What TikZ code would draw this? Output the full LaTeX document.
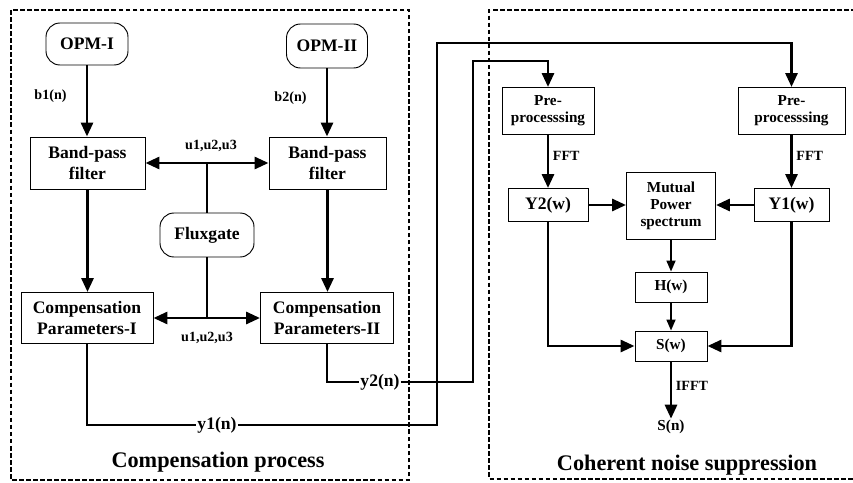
\documentclass[tikz,border=0pt]{standalone}
\usepackage{fontspec}
\setmainfont{Liberation Serif}
\usetikzlibrary{arrows.meta,positioning}

\begin{document}
\begin{tikzpicture}[x=0.03cm, y=-0.03cm,
	every node/.style={font=\fontsize{15}{17.5}\selectfont\bfseries},
	>={Triangle[length=4.2mm, width=3.6mm]},
	box/.style={draw, line width=0.8pt, align=center, inner sep=0pt},
	rbox/.style={box, rounded corners=0.42cm},
	rt/.style={box, font=\fontsize{13}{14.5}\selectfont\bfseries},
	sig/.style={inner sep=1pt, font=\fontsize{15}{17}\selectfont\bfseries},
	lbl/.style={inner sep=2pt, font=\fontsize{12}{14}\selectfont\bfseries},
	flow/.style={line width=2.5pt},
	thinflow/.style={line width=1.4pt, >={Triangle[length=3.3mm, width=2.7mm]}},
	frame/.style={line width=1.4pt, dash pattern=on 4pt off 2pt}]
	\useasboundingbox (0,0) rectangle (853,482);

	\draw[frame] (11,10) rectangle (409,480);
	\draw[frame] (856,10) -- (489,10) -- (489,479) -- (856,479);

	\node[rbox, minimum width=2.46cm, minimum height=1.26cm] (opm1) at (87,44) {OPM-I};
	\node[rbox, minimum width=2.43cm, minimum height=1.32cm] (opm2) at (327,46) {OPM-II};
	\node[box, minimum width=3.45cm, minimum height=1.56cm] (bpf1) at (87.5,163) {Band-pass\\filter};
	\node[box, minimum width=3.51cm, minimum height=1.56cm] (bpf2) at (327.5,163) {Band-pass\\filter};
	\node[rbox, minimum width=2.82cm, minimum height=1.32cm] (flux) at (207,235) {Fluxgate};
	\node[box, minimum width=3.96cm, minimum height=1.53cm] (cp1) at (87,318) {Compensation\\Parameters-I};
	\node[box, minimum width=3.99cm, minimum height=1.53cm] (cp2) at (327,318) {Compensation\\Parameters-II};

	\draw[flow, ->] (opm1.south) -- (opm1.south |- bpf1.north) node[lbl, pos=0.43, left=0.5cm] (b1) {b1(n)};
	\draw[flow, ->] (opm2.south) -- (opm2.south |- bpf2.north) node[lbl, pos=0.43, left=0.5cm] (b2) {b2(n)};
	\draw[flow] (flux.north) -- (flux.north |- bpf1.east) coordinate (jt);
	\draw[flow, <->] (bpf1.east) -- (bpf2.west);
	\node[lbl, above=0.26cm of jt, xshift=0.12cm] (utop) {u1,u2,u3};
	\draw[flow] (flux.south) -- (flux.south |- cp1.east) coordinate (jb);
	\draw[flow, <->] (cp1.east) -- (cp2.west);
	\node[lbl, below=0.36cm of jb] (ubot) {u1,u2,u3};
	\draw[flow, ->] (bpf1.south) -- (bpf1.south |- cp1.north);
	\draw[flow, ->] (bpf2.south) -- (bpf2.south |- cp2.north);

	\node[rt, minimum width=2.76cm, minimum height=1.41cm] (pre1) at (548,111) {Pre-\\processsing};
	\node[rt, minimum width=3.21cm, minimum height=1.41cm] (pre2) at (791.5,111) {Pre-\\processsing};
	\node[box, minimum width=2.4cm, minimum height=0.99cm] (y2w) at (548,205) {Y2(w)};
	\node[rt, minimum width=2.67cm, minimum height=2.01cm] (mps) at (671,206) {Mutual\\Power\\spectrum};
	\node[box, minimum width=2.25cm, minimum height=0.99cm] (y1w) at (791.5,205) {Y1(w)};
	\node[rt, minimum width=2.16cm, minimum height=0.9cm] (hw) at (671,287) {H(w)};
	\node[rt, minimum width=2.16cm, minimum height=0.9cm] (sw) at (671,346) {S(w)};
	\node[inner sep=1pt, font=\fontsize{13}{14.5}\selectfont\bfseries] (sn) at (671,427) {S(n)};

	\node[sig] (y2n) at (380,382) {y2(n)};
	\draw[flow] (cp2.south) |- (y2n.west);
	\draw[flow, ->] (y2n.east) -| (473,61) -| (pre1.north);
	\node[sig] (y1n) at (217,425) {y1(n)};
	\draw[flow] (cp1.south) |- (y1n.west);
	\draw[flow, ->] (y1n.east) -| (437,43) -| (pre2.north);

	\draw[flow, ->] (pre1) -- (y2w) node[lbl, pos=0.4, right=1pt] (fft1) {FFT};
	\draw[flow, ->] (pre2) -- (y1w) node[lbl, pos=0.4, right=1pt] (fft2) {FFT};
	\draw[flow, ->] (y2w.east) -- (y2w.east -| mps.west);
	\draw[flow, ->] (y1w.west) -- (y1w.west -| mps.east);
	\draw[thinflow, ->] (mps) -- (hw);
	\draw[thinflow, ->] (hw) -- (sw);
	\draw[flow, ->] (y2w.south) |- (sw.west);
	\draw[flow, ->] (y1w.south) |- (sw.east);
	\draw[flow, ->] (sw) -- (sn) node[lbl, pos=0.43, right=1pt] (ifft) {IFFT};

	\node[font=\fontsize{19}{22}\selectfont\bfseries] (title1) at (218,462) {Compensation process};
	\node[font=\fontsize{19}{22}\selectfont\bfseries] (title2) at (687,465) {Coherent noise suppression};
\end{tikzpicture}
\end{document}
